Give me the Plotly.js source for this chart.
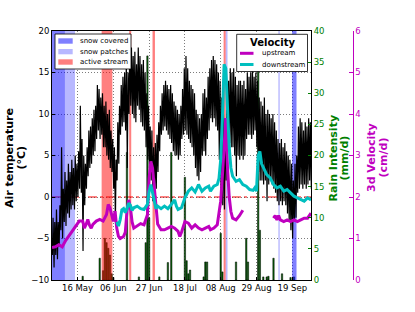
<!DOCTYPE html>
<html>
<head>
<meta charset="utf-8">
<script src="https://cdn.plot.ly/plotly-3.0.1.min.js"></script>
<style>html,body{margin:0;padding:0;background:#fff;}#chart{width:415px;height:312px;}</style>
</head>
<body>
<div id="chart"></div>
<script>
// ---------------- DATA ----------------
const startDate = '2013-05-01';
// daily air temperature maximum / minimum (°C), 1 May .. 30 Sep
const tMax = [
 -2.5,-3,-1.5,-3,-1,6,1,3,2,4,3,4.5,3.5,5,4,5.5,11,7,5,4,6,8,8.5,9.5,10.5,11,13.5,13,12,12.5,11,
 11.5,10,10.5,8,7,6,4.5,9,11,13.5,14.5,15,16.5,15,18.5,18,17,17.5,16,18,17,16,16.5,15,12.5,11,8.5,8,6,6.5,
 7.5,9,11,12.5,13.5,14,13.5,13,13.5,12.5,11.5,11,10.5,10,11,13,15.5,17,15.5,14,13.5,13,12.5,10.5,10,9.5,10,12.5,13,12,14.5,
 15.5,16.5,17,16.5,16,15,14,12,10,9.5,10.5,14,15.5,15,15.5,14.5,13.5,14,14,13.5,14,13,15,14.5,15,15.5,14.5,15,14,12,11.5,
 11,12,10,10.5,10,9.5,10,9,8,7,6.5,7,6,6.5,5.5,5,4.5,4,2,4,5,8.5,9.5,9,8,9,8.5,9.5,9,8.5
];
const tMin = [
 -7,-8.5,-7,-7.5,-6,-4,-5,-3,-3.5,-2,-2.5,-1.5,-1,-1.5,-0.5,0,1,0.5,-6.5,-1,1,2.5,3.5,4,5,5.5,7,8,7,7.5,6,
 6,5,4.5,3.5,3,1,-3,2,4,7.5,8.5,9,8,3.5,10,11,10,9.5,9,11,10.5,9,8.5,8,6,4.5,3.5,2,-0.5,0,
 1,3,5.5,7.5,8,8.5,8,7.5,7,6.5,5.5,5,5,4.5,5,7,7.5,8,7.5,7,6.5,6,5,3.5,2.5,2,3,5,5.5,5,7,
 8,9.5,9,9.5,8.5,8,4.5,1,-1,-1.5,2,6,6.5,6,6,5,2.5,5,4.5,5,4.5,5,7,7.5,7.5,7,7.5,8,6,3,2,
 2,1.5,2,-0.5,1.5,2,1.5,1,0.5,-0.5,-1,-0.5,-1,-0.5,-1,-2,-3,-4,-5,-3,-2.5,0.5,1,1.5,1,1.5,1,1.5,2,1
];

// rain intensity (mm/d)
const rainDates = ['2013-05-19','2013-05-29','2013-05-31','2013-06-01','2013-06-02','2013-06-03','2013-06-04','2013-06-05',
 '2013-06-06','2013-06-14','2013-06-21','2013-06-25','2013-06-26','2013-06-27','2013-07-03','2013-07-08','2013-07-10',
 '2013-07-18','2013-07-19','2013-07-20','2013-07-21','2013-07-29','2013-07-30','2013-07-31','2013-08-08','2013-08-09',
 '2013-08-17','2013-08-23','2013-08-24','2013-08-30','2013-08-31','2013-09-02','2013-09-04','2013-09-05','2013-09-08',
 '2013-09-13','2013-09-18','2013-09-20'];
const rainVals = [0.6,3.5,1.5,6.7,6.0,5.1,4.0,1.0,
 0.4,20.5,0.5,6.0,36.0,10.0,0.5,2.8,20.5,
 16.5,3.1,1.0,1.6,0.5,2.9,2.9,7.5,1.3,
 2.9,6.7,2.9,33.5,8.0,0.5,0.5,0.6,3.5,
 1.0,0.4,0.5];

// 3-day velocity (cm/d)
const upDates = ['2013-05-01','2013-05-03','2013-05-05','2013-05-07','2013-05-09','2013-05-11','2013-05-13','2013-05-15','2013-05-17',
 '2013-05-19','2013-05-20','2013-05-21','2013-05-22','2013-05-23','2013-05-24','2013-05-25','2013-05-27','2013-05-29','2013-05-31',
 '2013-06-02','2013-06-03','2013-06-04','2013-06-05','2013-06-06','2013-06-07','2013-06-08','2013-06-09','2013-06-10','2013-06-12',
 '2013-06-13','2013-06-14','2013-06-15','2013-06-16','2013-06-17','2013-06-18','2013-06-20','2013-06-22','2013-06-24','2013-06-26',
 '2013-06-27','2013-06-28','2013-06-29','2013-06-30',
 '2013-07-01','2013-07-02','2013-07-04','2013-07-06','2013-07-08','2013-07-10','2013-07-12','2013-07-14','2013-07-15','2013-07-16',
 '2013-07-18','2013-07-20','2013-07-22','2013-07-24','2013-07-26','2013-07-28','2013-07-30',
 '2013-08-01','2013-08-02','2013-08-04','2013-08-06','2013-08-07','2013-08-08','2013-08-09','2013-08-10','2013-08-11','2013-08-12',
 '2013-08-13','2013-08-14','2013-08-15','2013-08-17','2013-08-19','2013-08-21','2013-08-22',
 '2013-09-08','2013-09-09','2013-09-10','2013-09-11','2013-09-12','2013-09-14','2013-09-16','2013-09-18','2013-09-20','2013-09-22',
 '2013-09-24','2013-09-26','2013-09-28','2013-09-30'];
const upVals = [0.78,0.8,0.85,0.8,0.95,1.07,1.2,1.32,1.42,
 1.42,1.25,1.34,1.46,1.32,1.25,1.34,1.42,1.46,1.42,
 1.58,1.82,1.74,1.58,1.41,1.66,1.25,1.05,1.0,1.05,
 1.15,1.65,1.93,1.75,1.4,1.25,1.3,1.36,1.33,1.57,
 2.46,2.86,2.7,2.22,
 1.66,1.35,1.21,1.21,1.25,1.29,1.25,1.17,1.05,1.15,
 1.41,1.37,1.25,1.33,1.25,1.21,1.25,
 1.29,1.21,1.25,1.33,1.57,1.9,2.5,3.3,3.9,2.7,
 2.0,1.65,1.49,1.45,1.55,1.68,null,
 1.49,1.55,1.45,1.55,1.45,1.41,1.45,1.41,1.45,1.41,
 1.45,1.49,1.49,1.61];
const downDates = ['2013-06-08','2013-06-09','2013-06-10','2013-06-11','2013-06-12','2013-06-13','2013-06-14','2013-06-15','2013-06-16',
 '2013-06-17','2013-06-18','2013-06-20','2013-06-22','2013-06-24','2013-06-26','2013-06-27','2013-06-28','2013-06-29','2013-06-30',
 '2013-07-01','2013-07-02','2013-07-04','2013-07-06','2013-07-08','2013-07-10','2013-07-12','2013-07-13','2013-07-14','2013-07-16',
 '2013-07-18','2013-07-20','2013-07-22','2013-07-24','2013-07-26','2013-07-28','2013-07-30',
 '2013-08-01','2013-08-02','2013-08-04','2013-08-06','2013-08-07','2013-08-08','2013-08-09','2013-08-10','2013-08-11','2013-08-12',
 '2013-08-13','2013-08-14','2013-08-15','2013-08-17','2013-08-19','2013-08-21','2013-08-23','2013-08-25','2013-08-27','2013-08-28',
 '2013-08-29','2013-08-30','2013-08-31','2013-09-01','2013-09-02','2013-09-04','2013-09-06','2013-09-08','2013-09-10','2013-09-12',
 '2013-09-14','2013-09-16','2013-09-18','2013-09-20','2013-09-22','2013-09-24','2013-09-26','2013-09-28','2013-09-30'];
const downVals = [1.4,1.3,1.45,1.69,1.72,1.62,1.72,1.85,1.8,
 1.68,1.74,1.78,1.72,1.7,1.82,2.14,2.3,2.1,1.9,
 1.72,1.78,1.72,1.78,1.72,1.82,1.93,1.78,1.7,1.74,
 1.98,2.14,2.22,2.12,2.3,2.14,2.22,
 2.26,2.14,2.26,2.3,2.45,2.9,3.9,5.2,5.1,4.0,
 3.2,2.7,2.5,2.38,2.42,2.3,2.26,2.18,2.16,2.22,
 2.14,3.0,3.1,2.8,2.7,2.54,2.46,2.3,2.22,2.26,
 2.14,2.18,2.1,2.02,1.98,1.93,1.9,1.98,1.93];

// shaded periods
const snowCoveredStart = ['2013-05-01 00:00','2013-09-18 22:00'];
const snowCoveredEnd   = ['2013-05-08 14:00','2013-09-21 12:00'];
const snowPatchesStart = ['2013-05-08 14:00','2013-08-10 22:00','2013-09-10 20:00'];
const snowPatchesEnd   = ['2013-05-14 12:00','2013-08-12 00:00','2013-09-11 16:00'];
const activeStart = ['2013-05-30 03:00','2013-06-15 07:00','2013-06-29 00:00','2013-08-09 17:00'];
const activeEnd   = ['2013-06-05 10:00','2013-06-16 12:00','2013-06-30 10:00','2013-08-10 22:00'];

const xTickVals = ['2013-05-16','2013-06-06','2013-06-27','2013-07-18','2013-08-08','2013-08-29','2013-09-19'];
const xTickText = ['16 May','06 Jun','27 Jun','18 Jul','08 Aug','29 Aug','19 Sep'];
const tempTicks = [-10,-5,0,5,10,15,20];
const rainTicks = [0,5,10,15,20,25,30,35,40];
const velTicks = [0,1,2,3,4,5,6];

// ---------------- BUILD ----------------
const DAY = 86400000;
const toMs = s => Date.parse((s.length > 10 ? s.replace(' ', 'T') + ':00' : s + 'T00:00:00') + 'Z');
const toIso = ms => new Date(ms).toISOString().slice(0, 19).replace('T', ' ');

const t0 = toMs(startDate);
const tempX = [], tempY = [];
for (let i = 0; i < tMax.length; i++) {
  const d = t0 + i * DAY;
  tempX.push(toIso(d + 5 * 3600000)); tempY.push(tMin[i]);
  tempX.push(toIso(d + 15 * 3600000)); tempY.push(tMax[i]);
}

function spanTrace(starts, ends, color, name) {
  const xs = [], ws = [], ys = [];
  for (let i = 0; i < starts.length; i++) {
    const a = toMs(starts[i]), b = toMs(ends[i]);
    xs.push(toIso((a + b) / 2)); ws.push(b - a); ys.push(rainTicks[rainTicks.length - 1]);
  }
  return {type: 'bar', x: xs, y: ys, width: ws, base: 0, yaxis: 'y', name: name,
    marker: {color: color, line: {width: 0}}, showlegend: false, hoverinfo: 'skip'};
}

const GREEN = '#008000', MAG = '#bf00bf', CYAN = '#00bfbf';
const C_COV = 'rgba(0,0,255,0.5)', C_PAT = 'rgba(0,0,255,0.28)', C_ACT = 'rgba(255,0,0,0.5)';
const FONT = 'DejaVu Sans';

const traces = [
  {type: 'bar', x: rainDates, y: rainVals, width: rainDates.map(() => 0.8 * DAY), yaxis: 'y', name: 'rain',
   marker: {color: '#006400', line: {color: '#000', width: 0.5}}, showlegend: false, hoverinfo: 'skip'},
  spanTrace(snowCoveredStart, snowCoveredEnd, C_COV, 'snow covered'),
  spanTrace(snowPatchesStart, snowPatchesEnd, C_PAT, 'snow patches'),
  spanTrace(activeStart, activeEnd, C_ACT, 'active stream'),
  {type: 'scatter', mode: 'lines', x: tempX, y: tempY, yaxis: 'y2', name: 'air temperature',
   line: {color: '#000', width: 1.2}, showlegend: false, hoverinfo: 'skip'},
  {type: 'scatter', mode: 'lines', x: upDates, y: upVals, yaxis: 'y3', name: 'upstream', connectgaps: false,
   line: {color: MAG, width: 3}, showlegend: false, hoverinfo: 'skip'},
  {type: 'scatter', mode: 'lines', x: downDates, y: downVals, yaxis: 'y3', name: 'downstream',
   line: {color: CYAN, width: 3}, showlegend: false, hoverinfo: 'skip'}
];

// plot geometry helpers (paper coords from pixel positions)
const ML = 52, MR = 20, MT = 31, MB = 32, W = 415, H = 312;
const PW = W - ML - MR, PH = H - MT - MB;
const px = x => (x - ML) / PW;
const py = y => (H - MB - y) / PH;

const shapes = [
  {type: 'line', xref: 'paper', yref: 'y2', x0: 0, x1: 259 / PW, y0: 0, y1: 0, layer: 'below',
   line: {color: 'red', width: 1, dash: 'dashdot'}},
  // legend 1
  {type: 'rect', xref: 'paper', yref: 'paper', x0: px(55), x1: px(131), y0: py(69), y1: py(34),
   fillcolor: '#fff', line: {color: '#000', width: 0.8}, layer: 'above'},
  {type: 'rect', xref: 'paper', yref: 'paper', x0: px(58.3), x1: px(72.7), y0: py(43.7), y1: py(38.3),
   fillcolor: C_COV, line: {width: 0}, layer: 'above'},
  {type: 'rect', xref: 'paper', yref: 'paper', x0: px(58.3), x1: px(72.7), y0: py(54.3), y1: py(49),
   fillcolor: C_PAT, line: {width: 0}, layer: 'above'},
  {type: 'rect', xref: 'paper', yref: 'paper', x0: px(58.3), x1: px(72.7), y0: py(64.7), y1: py(59.3),
   fillcolor: C_ACT, line: {width: 0}, layer: 'above'},
  // legend 2
  {type: 'rect', xref: 'paper', yref: 'paper', x0: px(236.7), x1: px(307.5), y0: py(71.5), y1: py(34.3),
   fillcolor: '#fff', line: {color: '#000', width: 0.8}, layer: 'above'},
  {type: 'line', xref: 'paper', yref: 'paper', x0: px(240), x1: px(253.5), y0: py(53.3), y1: py(53.3),
   line: {color: MAG, width: 3}, layer: 'above'},
  {type: 'line', xref: 'paper', yref: 'paper', x0: px(240), x1: px(253.5), y0: py(64.5), y1: py(64.5),
   line: {color: CYAN, width: 3}, layer: 'above'}
];

function ann(text, x, y, opts) {
  return Object.assign({text: text, xref: 'paper', yref: 'paper', x: x, y: y, showarrow: false,
    xanchor: 'left', yanchor: 'middle', font: {family: FONT, size: 7, color: '#000'}}, opts || {});
}
const annotations = [
  ann('snow covered', px(78), py(41)),
  ann('snow patches', px(78), py(51.7)),
  ann('active stream', px(78), py(62)),
  ann('<b>Velocity</b>', px(272), py(42), {xanchor: 'center', font: {family: FONT, size: 10, color: '#000'}}),
  ann('upstream', px(260), py(53.3)),
  ann('downstream', px(260), py(64.5)),
  ann('<b>Air temperature</b>', px(10), 0.49, {xanchor: 'center', textangle: -90, font: {family: FONT, size: 11, color: '#000'}}),
  ann('<b>(°C)</b>', px(21.5), 0.49, {xanchor: 'center', textangle: -90, font: {family: FONT, size: 11, color: '#000'}}),
  ann('<b>Rain Intensity</b>', px(333.5), 0.49, {xanchor: 'center', textangle: -90, font: {family: FONT, size: 11, color: GREEN}}),
  ann('<b>(mm/d)</b>', px(344.5), 0.49, {xanchor: 'center', textangle: -90, font: {family: FONT, size: 11, color: GREEN}}),
  ann('<b>3d Velocity</b>', px(372), 0.49, {xanchor: 'center', textangle: -90, font: {family: FONT, size: 11, color: MAG}}),
  ann('<b>(cm/d)</b>', px(383.5), 0.49, {xanchor: 'center', textangle: -90, font: {family: FONT, size: 11, color: MAG}})
];

const tickFont = c => ({family: FONT, size: 8.5, color: c});
const layout = {
  width: W, height: H,
  margin: {l: ML, r: MR, t: MT, b: MB, pad: 0},
  paper_bgcolor: '#fff', plot_bgcolor: '#fff',
  barmode: 'overlay',
  showlegend: false,
  font: {family: FONT, size: 8.5, color: '#000'},
  xaxis: {type: 'date', domain: [0, 259 / PW], range: ['2013-05-01', '2013-09-30'],
    tickmode: 'array', tickvals: xTickVals, ticktext: xTickText, tickfont: tickFont('#000'),
    ticks: 'inside', ticklen: 3, tickcolor: '#000',
    showline: true, mirror: true, linecolor: '#000', linewidth: 1,
    showgrid: true, gridcolor: '#444', gridwidth: 0.7, griddash: '1px,2px', zeroline: false},
  yaxis: {range: [0, 40], side: 'right', anchor: 'x', tickmode: 'array', tickvals: rainTicks,
    tickfont: tickFont(GREEN), ticks: 'inside', ticklen: 3, tickcolor: GREEN,
    showline: true, linecolor: '#000', linewidth: 1, showgrid: false, zeroline: false},
  yaxis2: {range: [-10, 20], side: 'left', anchor: 'x', overlaying: 'y', tickmode: 'array', tickvals: tempTicks,
    tickfont: tickFont('#000'), ticks: 'inside', ticklen: 3, tickcolor: '#000',
    showline: true, linecolor: '#000', linewidth: 1,
    showgrid: true, gridcolor: '#444', gridwidth: 0.7, griddash: '1px,2px', zeroline: false},
  yaxis3: {range: [0, 6], side: 'right', anchor: 'free', position: px(352.5), overlaying: 'y',
    tickmode: 'array', tickvals: velTicks, tickfont: tickFont(MAG), ticks: 'inside', ticklen: 4, tickcolor: MAG,
    showline: true, linecolor: MAG, linewidth: 1, showgrid: false, zeroline: false},
  shapes: shapes,
  annotations: annotations
};

Plotly.newPlot('chart', traces, layout, {staticPlot: true, displayModeBar: false});
</script>
</body>
</html>
